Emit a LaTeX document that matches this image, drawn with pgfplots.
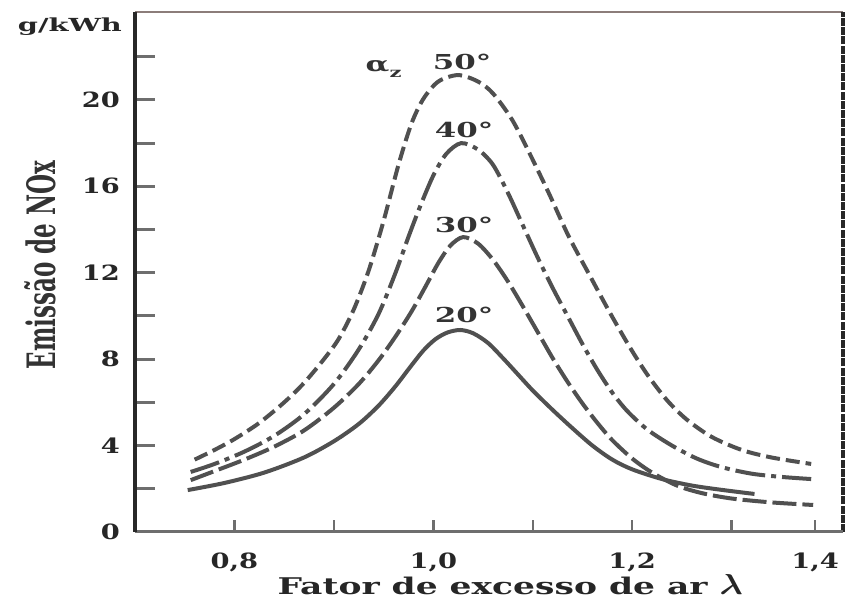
\documentclass[border=0pt]{standalone}
\usepackage{pgfplots}
\pgfplotsset{compat=1.18}
\usepackage{fontspec}
\setmainfont{DejaVu Serif}
\definecolor{crv}{RGB}{80,80,80}
\definecolor{axd}{RGB}{40,40,40}
\definecolor{axg}{RGB}{110,110,110}
\definecolor{axt}{RGB}{140,125,122}
\newcommand{\tl}[1]{\scalebox{1.3}[1]{\fontsize{10.5}{12}\selectfont\bfseries #1}}
\newcommand{\cl}[1]{\scalebox{1.5}[1]{\fontsize{10.3}{12}\selectfont\bfseries #1}}
\begin{document}
\begin{tikzpicture}
\begin{axis}[
  name=ax,
  scale only axis,
  width=354pt, height=260pt,
  xmin=0.7, xmax=1.412, ymin=0, ymax=24.07,
  axis line style={draw=none},
  clip=false,
  tick align=inside,
  xtick={0.8,0.9,1.0,1.1,1.2,1.3},
  xticklabels={\tl{0,8},{},\tl{1,0},{},\tl{1,2},{}},
  extra x ticks={1.384},
  extra x tick labels={\tl{1,4}},
  extra x tick style={major tick length=0pt},
  ytick={0,4,8,12,16,20},
  yticklabels={\tl{0},\tl{4},\tl{8},\tl{12},\tl{16},\tl{20}},
  minor ytick={2,6,10,14,18,22},
  xtick pos=bottom, ytick pos=left,
  major tick length=10pt, minor tick length=10pt,
  xtick style={line width=1.2pt, axg, /pgfplots/major tick length=6pt},
  ytick style={line width=1.5pt, axg},
  minor tick style={line width=1.5pt, axg},
  xticklabel style={yshift=-7pt, text=black!85},
  yticklabel style={xshift=-4pt, text=black!85},
  xlabel={\scalebox{1.5}[1]{\fontsize{11.5}{13}\selectfont\bfseries Fator de excesso de ar}\hspace{6pt}\scalebox{1.2}[1]{\fontsize{14}{14}\selectfont\boldmath$\lambda$}},
  xlabel style={at={(rel axis cs:0.53,-0.102)}, anchor=center, text=black!85},
  ylabel={\scalebox{1}[1.7]{\fontsize{11.5}{13}\selectfont\bfseries Emissão de NOx}},
  ylabel style={at={(rel axis cs:-0.134,0.513)}, anchor=center, rotate=0, text=black!80},
]
% axis frame
\draw[line width=1pt, axt] (rel axis cs:0,1) -- (rel axis cs:1,1);
\draw[line width=2pt, axd, dash pattern=on 4pt off 0.6pt] (rel axis cs:1,0) -- (rel axis cs:1,1);
\draw[line width=1.5pt, axg] (rel axis cs:0,0) -- (rel axis cs:1,0);
\draw[line width=2pt, axd] (rel axis cs:0,0) -- (rel axis cs:0,1);

% 50 deg
\addplot[crv, line width=2pt, smooth, dash pattern=on 7pt off 3pt] coordinates {
(0.760,3.35) (0.780,3.80) (0.800,4.30) (0.825,5.05) (0.850,6.00) (0.870,6.90)
(0.890,8.00) (0.905,8.95) (0.920,10.30) (0.935,12.10) (0.950,14.40) (0.965,17.00)
(0.978,18.90) (0.990,20.05) (1.005,20.85) (1.025,21.15) (1.045,20.85) (1.060,20.30)
(1.079,19.10) (1.096,17.60) (1.116,15.70) (1.136,13.70) (1.157,11.90) (1.177,10.20)
(1.197,8.60) (1.215,7.30) (1.235,6.10) (1.255,5.20) (1.280,4.40) (1.310,3.80)
(1.340,3.45) (1.380,3.15)
};
% 40 deg
\addplot[crv, line width=2pt, smooth, dash pattern=on 15pt off 3pt on 2.5pt off 3pt] coordinates {
(0.756,2.78) (0.780,3.15) (0.810,3.72) (0.840,4.45) (0.870,5.45) (0.900,6.85)
(0.925,8.45) (0.945,10.10) (0.962,12.00) (0.975,13.66) (0.987,15.10) (1.000,16.50)
(1.013,17.50) (1.028,18.00) (1.045,17.70) (1.060,17.00) (1.075,15.70) (1.090,14.20)
(1.105,12.70) (1.120,11.30) (1.135,10.00) (1.150,8.70) (1.165,7.50) (1.180,6.45)
(1.195,5.60) (1.215,4.75) (1.240,4.00) (1.265,3.40) (1.290,3.00) (1.320,2.70)
(1.350,2.55) (1.380,2.45)
};
% 30 deg
\addplot[crv, line width=2pt, smooth, dash pattern=on 12pt off 3pt] coordinates {
(0.756,2.40) (0.780,2.82) (0.810,3.35) (0.840,3.95) (0.870,4.70) (0.900,5.75)
(0.925,6.85) (0.945,7.95) (0.962,9.05) (0.978,10.20) (0.992,11.35) (1.005,12.45)
(1.017,13.25) (1.030,13.65) (1.045,13.35) (1.060,12.60) (1.075,11.60) (1.090,10.45)
(1.105,9.25) (1.120,8.05) (1.135,6.95) (1.150,5.95) (1.165,5.05) (1.180,4.25)
(1.200,3.40) (1.220,2.75) (1.245,2.15) (1.270,1.80) (1.300,1.55) (1.340,1.37) (1.382,1.25)
};
% 20 deg
\addplot[crv, line width=2pt, smooth] coordinates {
(0.753,1.94) (0.790,2.27) (0.830,2.75) (0.870,3.45) (0.900,4.20) (0.925,5.00)
(0.945,5.85) (0.962,6.75) (0.977,7.65) (0.990,8.40) (1.002,8.92) (1.014,9.23)
(1.027,9.35) (1.040,9.20) (1.055,8.75) (1.070,8.05) (1.085,7.30) (1.100,6.55)
(1.120,5.65) (1.140,4.80) (1.160,4.00) (1.180,3.35) (1.200,2.90) (1.230,2.45)
(1.260,2.15) (1.290,1.95) (1.323,1.76)
};

\node[text=black!80] at (axis cs:0.950,21.45) {\cl{α\raisebox{-3pt}{\fontsize{7}{8}\selectfont z}}};
\node[text=black!80] at (axis cs:1.029,21.76) {\cl{50°}};
\node[text=black!80] at (axis cs:1.031,18.6) {\cl{40°}};
\node[text=black!80] at (axis cs:1.031,14.2) {\cl{30°}};
\node[text=black!80] at (axis cs:1.031,10.05) {\cl{20°}};
\node[text=black!85] at (rel axis cs:-0.092,0.971) {\scalebox{1.6}[1]{\fontsize{9}{11}\selectfont\bfseries g/kWh}};
\end{axis}
\pgfresetboundingbox
\path ([xshift=-67.5pt,yshift=-35.5pt]ax.south west) rectangle ([xshift=1.5pt,yshift=6pt]ax.north east);
\end{tikzpicture}
\end{document}
